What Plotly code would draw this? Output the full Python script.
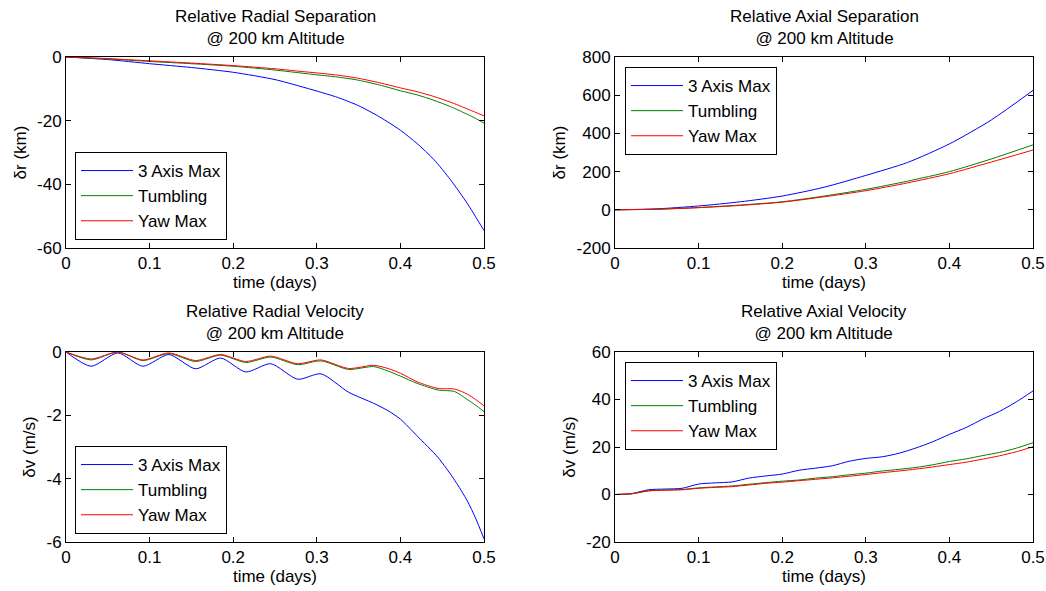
import plotly.graph_objects as go

# ---------------- data ----------------
series_names = ["3 Axis Max", "Tumbling", "Yaw Max"]
series_colors = ["#0000FF", "#008000", "#FF0000"]

# Relative radial separation (km)
t_rs = [0, 0.05, 0.1, 0.15, 0.2, 0.25, 0.28, 0.3, 0.325, 0.35, 0.375, 0.4, 0.42, 0.44, 0.46, 0.48, 0.49, 0.5]
rs_3axis = [0, -0.8, -2.1, -3.3, -4.8, -7.1, -9.2, -10.7, -12.7, -15.3, -18.8, -23.0, -27.2, -32.2, -38.6, -46.0, -50.2, -54.5]
rs_tumb = [0, -0.6, -1.4, -2.1, -2.9, -4.1, -5.0, -5.6, -6.3, -7.3, -8.8, -10.6, -11.9, -13.6, -15.6, -18.0, -19.3, -20.8]
rs_yaw = [0, -0.5, -1.2, -1.9, -2.7, -3.7, -4.5, -5.0, -5.7, -6.7, -8.1, -9.7, -10.9, -12.4, -14.2, -16.3, -17.4, -18.5]

# Relative axial separation (km)
t_as = [0, 0.05, 0.1, 0.15, 0.2, 0.25, 0.3, 0.35, 0.4, 0.45, 0.5]
as_3axis = [0, 5, 20, 42, 72, 118, 180, 248, 345, 470, 625]
as_tumb = [0, 3, 12, 25, 42, 72, 107, 150, 200, 266, 340]
as_yaw = [0, 3, 11, 23, 40, 68, 100, 141, 189, 250, 313]

# Relative radial velocity (m/s)
t_rv = [0, 0.03, 0.062, 0.092, 0.123, 0.155, 0.185, 0.215, 0.245, 0.277, 0.305,
        0.338, 0.368, 0.385, 0.40, 0.42, 0.445, 0.465, 0.48, 0.49, 0.50]
rv_3axis = [0, -0.45, -0.03, -0.45, -0.08, -0.53, -0.19, -0.63, -0.37, -0.86, -0.69,
            -1.27, -1.62, -1.85, -2.12, -2.65, -3.33, -4.05, -4.7, -5.25, -5.9]
rv_tumb = [0, -0.25, 0, -0.27, -0.05, -0.3, -0.1, -0.33, -0.16, -0.4, -0.28,
           -0.55, -0.46, -0.6, -0.76, -0.99, -1.2, -1.25, -1.5, -1.68, -1.88]
rv_yaw = [0, -0.22, 0, -0.25, -0.03, -0.27, -0.08, -0.3, -0.13, -0.37, -0.25,
          -0.52, -0.42, -0.52, -0.67, -0.94, -1.15, -1.17, -1.33, -1.5, -1.7]

# Relative axial velocity (m/s)
t_av = [0, 0.02, 0.04, 0.06, 0.08, 0.1, 0.12, 0.14, 0.16, 0.18, 0.2, 0.22, 0.24,
        0.26, 0.28, 0.3, 0.32, 0.34, 0.36, 0.38, 0.4, 0.42, 0.44, 0.46, 0.48, 0.5]
av_3axis = [0, 0.4, 2.0, 2.3, 2.6, 4.4, 4.9, 5.3, 6.9, 7.8, 8.6, 10.2, 11.1,
            12.1, 14.0, 15.2, 15.9, 17.4, 19.6, 22.2, 25.3, 28.2, 31.8, 35.0, 39.0, 43.6]
av_tumb = [0, 0.3, 1.6, 1.9, 2.1, 2.8, 3.2, 3.6, 4.3, 5.0, 5.6, 6.1, 6.9,
           7.5, 8.3, 9.0, 9.9, 10.6, 11.4, 12.5, 13.9, 15.0, 16.4, 17.7, 19.5, 21.8]
av_yaw = [0, 0.3, 1.5, 1.8, 2.0, 2.6, 3.0, 3.3, 4.0, 4.7, 5.2, 5.8, 6.4,
          7.0, 7.7, 8.4, 9.2, 9.9, 10.7, 11.6, 12.6, 13.6, 14.9, 16.3, 18.0, 20.1]

x_ticks = [0, 0.1, 0.2, 0.3, 0.4, 0.5]
x_ticktext = ["0", "0.1", "0.2", "0.3", "0.4", "0.5"]
rs_ticks = [-60, -40, -20, 0]
as_ticks = [-200, 0, 200, 400, 600, 800]
rv_ticks = [-6, -4, -2, 0]
av_ticks = [-20, 0, 20, 40, 60]

titles = ["Relative Radial Separation<br>@ 200 km Altitude",
          "Relative Axial Separation<br>@ 200 km Altitude",
          "Relative Radial Velocity<br>@ 200 km Altitude",
          "Relative Axial Velocity<br>@ 200 km Altitude"]
y_titles = ["δr (km)", "δr (km)", "δv (m/s)", "δv (m/s)"]
x_title = "time (days)"

# ---------------- figure ----------------
FONT = "Arial, Liberation Sans, sans-serif"
FS = 17
W, H = 1046, 591
OFF = 0
fig = go.Figure()

panels = [
    (t_rs, [rs_3axis, rs_tumb, rs_yaw], rs_ticks, "x", "y", "legend"),
    (t_as, [as_3axis, as_tumb, as_yaw], as_ticks, "x2", "y2", "legend2"),
    (t_rv, [rv_3axis, rv_tumb, rv_yaw], rv_ticks, "x3", "y3", "legend3"),
    (t_av, [av_3axis, av_tumb, av_yaw], av_ticks, "x4", "y4", "legend4"),
]

for t, ys, _, xa, ya, lg in panels:
    for name, col, y in zip(series_names, series_colors, ys):
        fig.add_trace(go.Scatter(
            x=t, y=y, mode="lines", name=name, xaxis=xa, yaxis=ya, legend=lg,
            line=dict(color=col, width=1, shape="spline", smoothing=0.7),
            showlegend=True))

# pixel layout (page pixels)
x_doms = [(66, 484), (615, 1033)]
y_doms = [(57, 248), (352, 542)]


def px_x(p):
    return (p - OFF) / W


def px_y(p):
    return 1 - (p - OFF) / H


axis_common = dict(showline=True, linecolor="black", linewidth=1, mirror="ticks",
                   ticks="inside", ticklen=5, tickcolor="black", showgrid=False,
                   zeroline=False, automargin=False,
                   tickfont=dict(family=FONT, size=FS, color="black"))

layout = dict(width=W, height=H, margin=dict(l=0, r=0, t=0, b=0, autoexpand=False),
              paper_bgcolor="white", plot_bgcolor="white",
              font=dict(family=FONT, size=FS, color="black"))

annotations = []
for i, (t, ys, yt, xa, ya, lg) in enumerate(panels):
    r, c = divmod(i, 2)
    xkey = "xaxis" if i == 0 else f"xaxis{i+1}"
    ykey = "yaxis" if i == 0 else f"yaxis{i+1}"
    layout[xkey] = dict(domain=[px_x(x_doms[c][0]), px_x(x_doms[c][1])], anchor=ya,
                        range=[0, 0.5], tickvals=x_ticks, ticktext=x_ticktext,
                        title=dict(text=x_title, font=dict(family=FONT, size=FS), standoff=2),
                        **axis_common)
    layout[ykey] = dict(domain=[px_y(y_doms[r][1]), px_y(y_doms[r][0])], anchor=xa,
                        range=[yt[0], yt[-1]], tickvals=yt, ticktext=[str(v) for v in yt],
                        title=dict(text=y_titles[i], font=dict(family=FONT, size=FS), standoff=6),
                        **axis_common)
    cx = px_x((x_doms[c][0] + x_doms[c][1]) / 2)
    annotations.append(dict(text=titles[i], x=cx, y=px_y(y_doms[r][0]),
                            xref="paper", yref="paper", xanchor="center", yanchor="bottom",
                            yshift=7, showarrow=False,
                            font=dict(family=FONT, size=FS, color="black")))
    if c == 0:
        lx, ly, yanc = px_x(75), px_y(y_doms[r][1] - 8), "bottom"
    else:
        lx, ly, yanc = px_x(625), px_y(y_doms[r][0] + 10), "top"
    layout[lg] = dict(x=lx, y=ly, xanchor="left", yanchor=yanc, bgcolor="white",
                      bordercolor="black", borderwidth=1, itemwidth=52,
                      font=dict(family=FONT, size=FS, color="black"), tracegroupgap=0)

layout["annotations"] = annotations
fig.update_layout(**layout)

fig.write_html("out.html", config={"displayModeBar": False},
               post_script="document.body.style.margin='0';document.body.style.overflow='hidden';")
